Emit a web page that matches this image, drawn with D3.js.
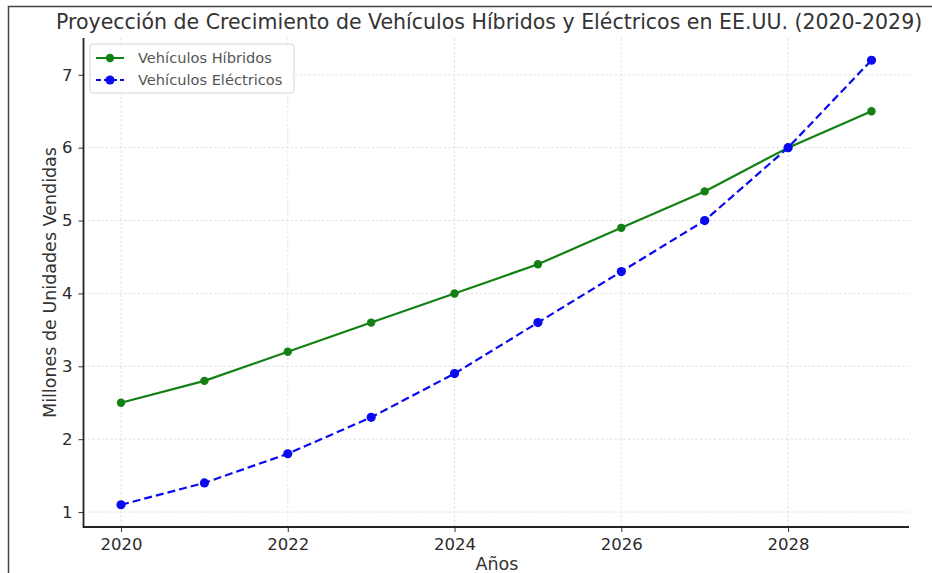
<!DOCTYPE html>
<html>
<head>
<meta charset="utf-8">
<script src="https://cdn.jsdelivr.net/npm/d3@7"></script>
<style>
  html, body { margin: 0; padding: 0; background: #fff; }
  svg { display: block; font-family: "DejaVu Sans", sans-serif; }
</style>
</head>
<body>
<svg id="chart" width="932" height="573"></svg>
<script>
// Projected yearly sales, millions of units
const years = [2020, 2021, 2022, 2023, 2024, 2025, 2026, 2027, 2028, 2029];
const hybridSales = [2.5, 2.8, 3.2, 3.6, 4.0, 4.4, 4.9, 5.4, 6.0, 6.5];
const electricSales = [1.1, 1.4, 1.8, 2.3, 2.9, 3.6, 4.3, 5.0, 6.0, 7.2];
const xTickValues = [2020, 2022, 2024, 2026, 2028];
const yTickValues = [1, 2, 3, 4, 5, 6, 7];
const seriesNames = ["Vehículos Híbridos", "Vehículos Eléctricos"];

const svg = d3.select("#chart");
const W = 932, H = 573;
const plot = { left: 83.5, right: 909, top: 38, bottom: 527 };

// Frame around the figure (top and left edges)
svg.append("path")
  .attr("d", `M8.5,${H} V6.5 H${W}`)
  .attr("fill", "none").attr("stroke", "#444").attr("stroke-width", 1.5);

// Data ranges padded by 5% on each side
const xPad = (2029 - 2020) * 0.05;
const allVals = hybridSales.concat(electricSales);
const yMin = d3.min(allVals), yMax = d3.max(allVals);
const yPad = (yMax - yMin) * 0.05;

const x = d3.scaleLinear().domain([2020 - xPad, 2029 + xPad]).range([plot.left, plot.right]);
const y = d3.scaleLinear().domain([yMin - yPad, yMax + yPad]).range([plot.bottom, plot.top]);

// Grid
const grid = svg.append("g").attr("stroke", "#d9d9d9").attr("stroke-width", 0.8)
  .attr("stroke-dasharray", "2.5,2");
xTickValues.forEach(v => grid.append("line")
  .attr("x1", x(v)).attr("x2", x(v)).attr("y1", plot.top).attr("y2", plot.bottom));
yTickValues.forEach(v => grid.append("line")
  .attr("x1", plot.left).attr("x2", plot.right).attr("y1", y(v)).attr("y2", y(v)));

// Axes
const xAxis = svg.append("g").attr("transform", `translate(0,${plot.bottom})`)
  .call(d3.axisBottom(x).tickValues(xTickValues).tickFormat(d3.format("d")).tickSize(5).tickPadding(6));
const yAxis = svg.append("g").attr("transform", `translate(${plot.left},0)`)
  .call(d3.axisLeft(y).tickValues(yTickValues).tickFormat(d3.format("d")).tickSize(5).tickPadding(6));
[xAxis, yAxis].forEach(a => {
  a.select(".domain").remove();
  a.selectAll(".tick line").attr("stroke", "#333").attr("stroke-width", 1);
  a.selectAll(".tick text").attr("fill", "#2a2a2a").style("font-size", "16.5px")
    .style("font-family", "DejaVu Sans, sans-serif");
});
// Left and bottom spines
svg.append("path")
  .attr("d", `M${plot.left},${plot.top} V${plot.bottom} H${plot.right}`)
  .attr("fill", "none").attr("stroke", "#222").attr("stroke-width", 1.8);

// Series
const line = d3.line().x((d, i) => x(years[i])).y(d => y(d));
const series = [
  { name: seriesNames[0], values: hybridSales, color: "#128012", dash: null, r: 4.2 },
  { name: seriesNames[1], values: electricSales, color: "#0a0af0", dash: "8,4", r: 4.6 }
];
series.forEach(s => {
  svg.append("path").datum(s.values).attr("d", line)
    .attr("fill", "none").attr("stroke", s.color).attr("stroke-width", 2.2)
    .attr("stroke-dasharray", s.dash);
  svg.append("g").selectAll("circle").data(s.values).join("circle")
    .attr("cx", (d, i) => x(years[i])).attr("cy", d => y(d)).attr("r", s.r)
    .attr("fill", s.color);
});

// Legend
const lg = svg.append("g").attr("transform", "translate(90,44)");
lg.append("rect").attr("width", 204).attr("height", 49).attr("rx", 3)
  .attr("fill", "#fff").attr("fill-opacity", 0.85).attr("stroke", "#d6d6d6");
series.forEach((s, i) => {
  const yy = 14 + i * 22;
  lg.append("line").attr("x1", 6).attr("x2", 34).attr("y1", yy).attr("y2", yy)
    .attr("stroke", s.color).attr("stroke-width", 2).attr("stroke-dasharray", s.dash ? "5,3" : null);
  lg.append("circle").attr("cx", 20).attr("cy", yy).attr("r", s.r).attr("fill", s.color);
  lg.append("text").attr("x", 48).attr("y", yy + 5).text(s.name)
    .attr("fill", "#555").style("font-size", "14.6px");
});

// Titles
svg.append("text").attr("x", 56).attr("y", 29).attr("text-anchor", "start")
  .attr("fill", "#333").style("font-size", "20.5px")
  .text("Proyección de Crecimiento de Vehículos Híbridos y Eléctricos en EE.UU. (2020-2029)");
svg.append("text").attr("x", 497).attr("y", 570).attr("text-anchor", "middle")
  .attr("fill", "#333").style("font-size", "17.5px").text("Años");
svg.append("text").attr("transform", `translate(56,${(plot.top + plot.bottom) / 2}) rotate(-90)`)
  .attr("text-anchor", "middle").attr("fill", "#333").style("font-size", "17.5px")
  .text("Millones de Unidades Vendidas");
</script>
</body>
</html>
